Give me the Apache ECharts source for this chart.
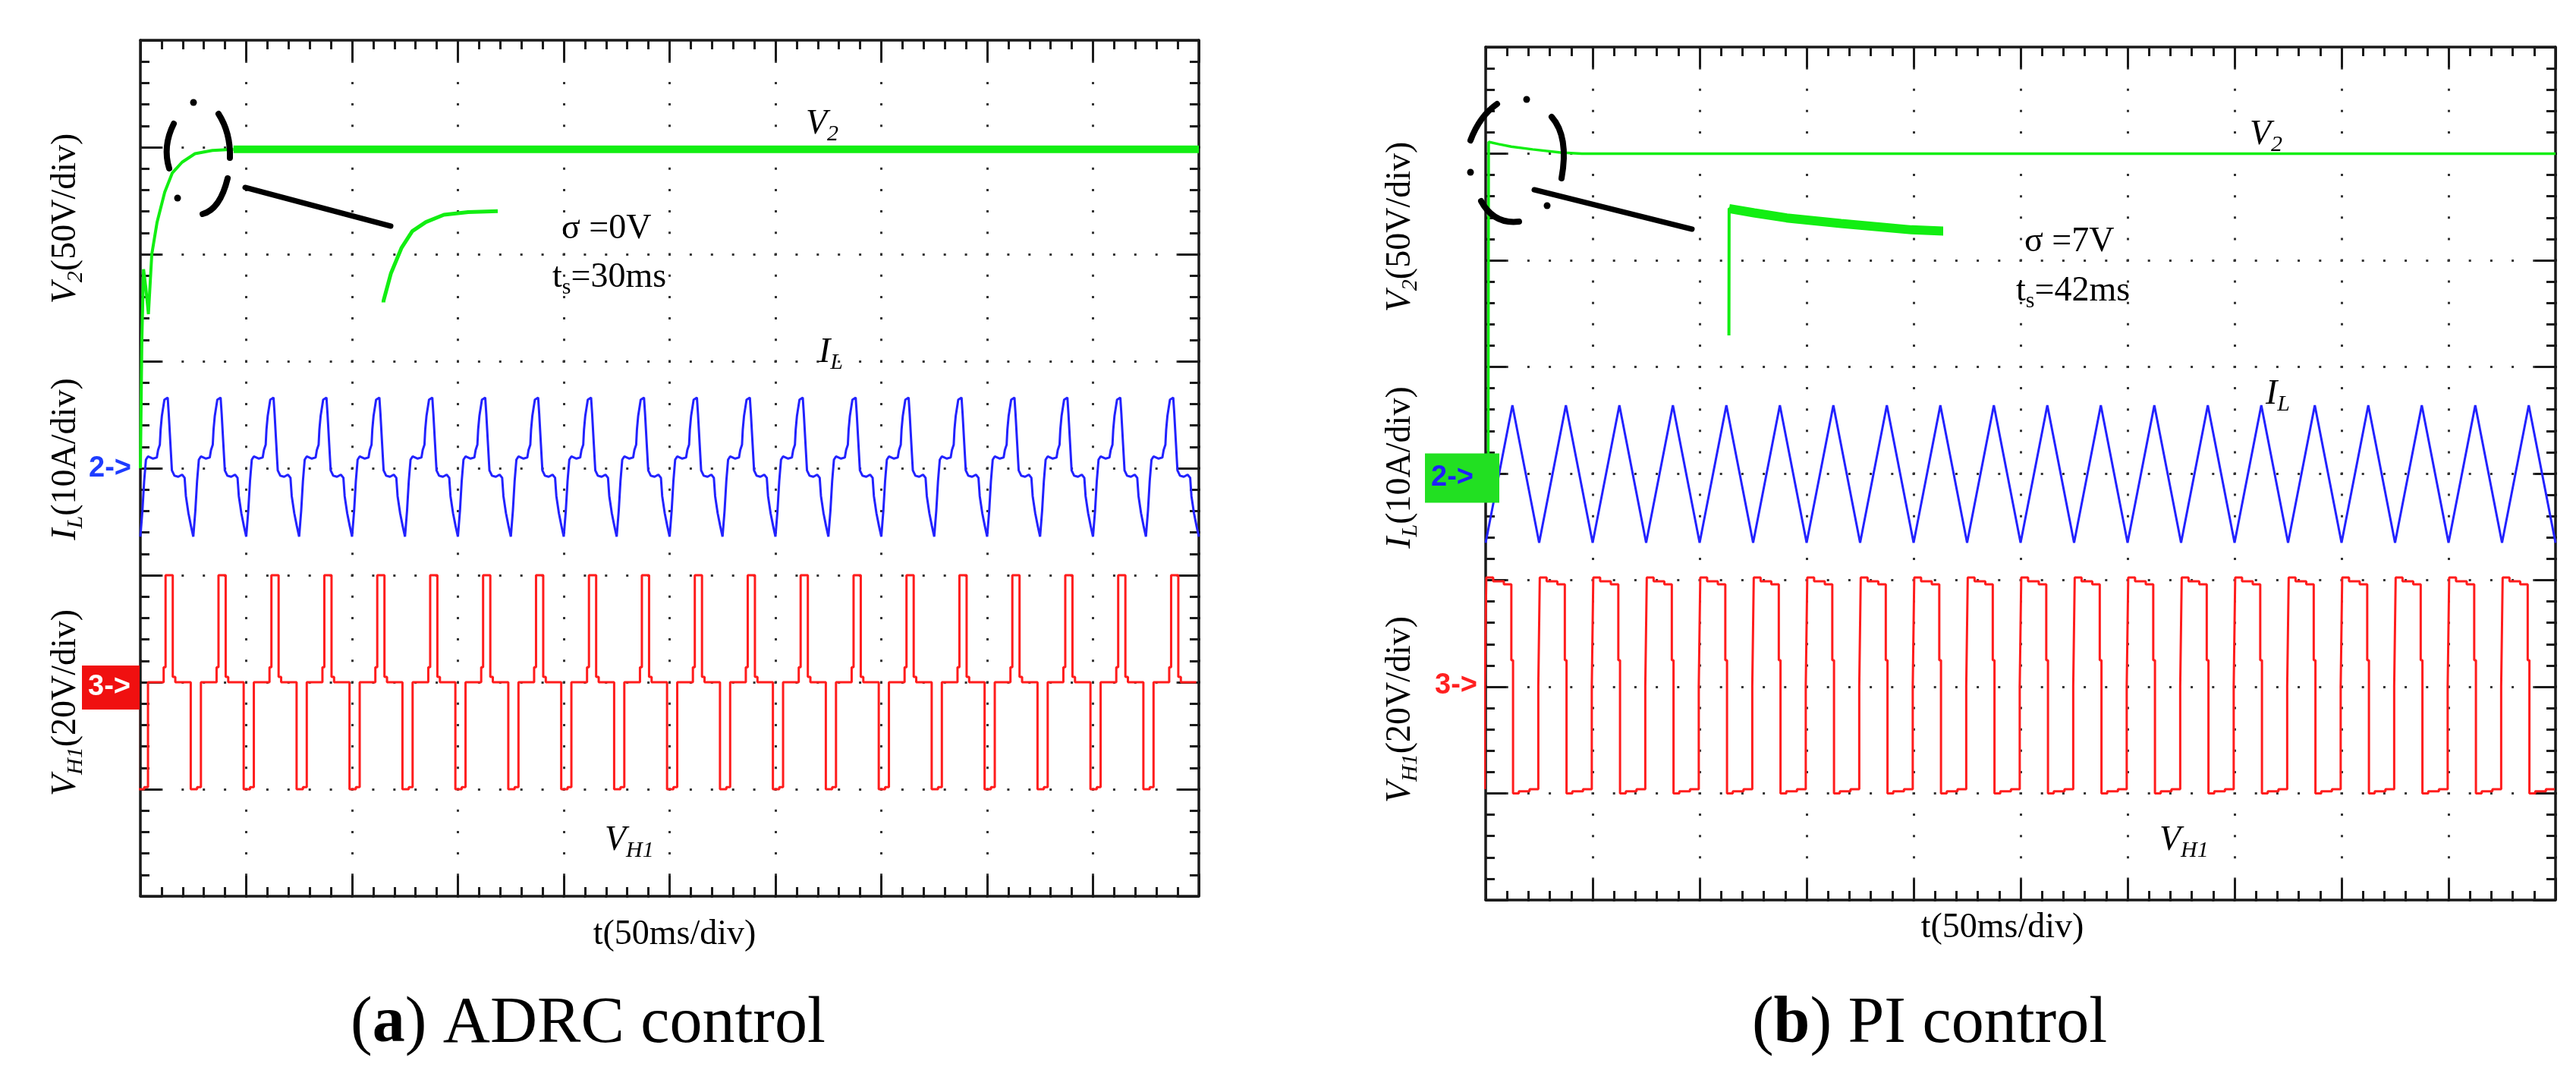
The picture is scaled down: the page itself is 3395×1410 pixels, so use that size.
<!DOCTYPE html>
<html>
<head>
<meta charset="utf-8">
<script src="https://cdn.jsdelivr.net/npm/echarts@6/dist/echarts.min.js"></script>
<style>
    html, body { margin: 0; padding: 0; background: #fff; }
    #chart { width: 3395px; height: 1410px; }
</style>
</head>
<body>
<div id="chart"></div>
<script>
// scope settings: 50ms/div x 10 div, 8 div vertical
// channel scale (per div) and reference marker level (div from bottom)
var v2Scale = 50, ilScale = 10, vh1Scale = 20;
var v2Ref = 4, ilRef = 4, vh1Ref = 2;

// (a) ADRC control
var adrcV2T = [0, 0.7, 1.5, 2.5, 3.8, 5.4, 7.9, 11.5, 15.1, 19.7, 25.8, 34, 44];
var adrcV2V = [0, 60, 93, 85, 72, 100, 115, 129, 138, 143, 147, 148.5, 149];
var adrcV2SteadyT = [44, 500];
var adrcV2SteadyV = [149, 149];
// trough of IL in each switching period (ms)
var adrcCycleT = [0, 25, 50, 75, 100, 125, 150, 175, 200, 225, 250, 275, 300, 325, 350, 375, 400, 425, 450, 475];
// one period of IL (ms after trough, A)
var adrcIlT = [0, 0.96, 1.79, 2.63, 3.59, 5.98, 7.77, 8.37, 9.2, 9.56, 10.16, 11.35, 12.9, 13.4, 14.1, 14.9, 16.1, 17.9, 19.7, 20.9, 21.5, 22.7, 23.9, 25];
var adrcIlV = [-6.4, -4.0, -1.2, 0.8, 1.1, 0.9, 1.0, 1.7, 2.2, 3.6, 4.9, 6.4, 6.6, 5.1, 2.6, -0.2, -0.7, -0.8, -0.6, -0.9, -2.6, -4.2, -5.4, -6.4];
// one period of VH1 (ms after IL trough, V)
var adrcVh1T = [-1.2, -1.2, 1.8, 1.8, 3.6, 3.6, 11.0, 11.0, 11.9, 11.9, 15.3, 15.3, 16.5, 16.5, 23.8];
var adrcVh1V = [0, -20, -20, -19.6, -19.6, 0, 0, 2.8, 2.8, 20, 20, 1.0, 1.0, 0, 0];

// (b) PI control
var piV2T = [0, 1.2, 1.4, 6, 12, 22, 35, 45, 500];
var piV2V = [0, 0, 155.5, 154.5, 153.3, 152, 150.5, 150, 150];
var piCycleT = [0, 25, 50, 75, 100, 125, 150, 175, 200, 225, 250, 275, 300, 325, 350, 375, 400, 425, 450, 475];
var piIlT = [0, 12.5, 25];
var piIlV = [-6.5, 6.4, -6.5];
var piVh1T = [-0.4, -0.4, 0.3, 0.3, 3.5, 3.5, 8.5, 8.5, 12.0, 12.0, 12.8, 12.8, 15.5, 15.5, 20.5, 20.5, 24.6];
var piVh1V = [-19.2, 0, 0, 20.5, 20.5, 19.8, 19.8, 19.2, 19.2, 5, 5, -20, -20, -19.6, -19.6, -19.2, -19.2];

var GREEN = '#12ee12', BLUE = '#2222ff', RED = '#ff1c1c';
var serif = 'Liberation Serif', sans = 'Liberation Sans';

function pairs(ts, vs, scale, ref) {
    var out = [];
    for (var i = 0; i < ts.length; i++) out.push([ts[i], ref + vs[i] / scale]);
    return out;
}
// repeat one recorded period at each read period start
function tile(starts, ts, vs, scale, ref) {
    var out = [];
    starts.forEach(function (s) {
        for (var i = 0; i < ts.length; i++) out.push([s + ts[i], ref + vs[i] / scale]);
    });
    return out;
}

function frameAxis(gi, pos, max, interval, dash) {
    var main = pos === 'bottom' || pos === 'left';
    return {
        type: 'value', gridIndex: gi, position: pos, min: 0, max: max, interval: interval,
        axisLine: { show: true, onZero: false, lineStyle: { color: '#1a1a1a', width: 3.5 } },
        axisTick: { show: true, inside: true, length: 27, lineStyle: { color: '#1a1a1a', width: 3 } },
        minorTick: { show: true, splitNumber: 5, length: 12, lineStyle: { color: '#1a1a1a', width: 3 } },
        axisLabel: { show: false },
        splitLine: { show: main, lineStyle: { color: '#333', width: 3, type: dash, dashOffset: 1.5 } }
    };
}
function hiddenAxis(gi, min, max) {
    return { type: 'value', gridIndex: gi, min: min, max: max, show: false };
}
function line(xi, data, color, width) {
    return {
        type: 'line', xAxisIndex: xi, yAxisIndex: xi, data: data, showSymbol: false,
        symbol: 'none', lineStyle: { color: color, width: width }, clip: true, z: 3
    };
}

var richLab = {
    n: { fontFamily: serif, fontSize: 46, lineHeight: 56, fill: '#000' },
    it: { fontFamily: serif, fontStyle: 'italic', fontSize: 46, lineHeight: 56, fill: '#000' },
    sub: { fontFamily: serif, fontStyle: 'italic', fontSize: 30, lineHeight: 26, verticalAlign: 'bottom', fill: '#000' },
    subn: { fontFamily: serif, fontSize: 30, lineHeight: 26, verticalAlign: 'bottom', fill: '#000' },
    b: { fontFamily: serif, fontWeight: 'bold', fontSize: 86, lineHeight: 96, fill: '#000' },
    t: { fontFamily: serif, fontSize: 86, lineHeight: 96, fill: '#000' }
};
function txt(x, y, text, align, rot) {
    return {
        type: 'text', x: x, y: y, rotation: rot || 0, z: 50,
        style: { text: text, rich: richLab, align: align || 'left', verticalAlign: 'middle' }
    };
}
function curve(x1, y1, cx, cy, x2, y2) {
    return {
        type: 'bezierCurve', z: 60,
        shape: { x1: x1, y1: y1, cpx1: cx, cpy1: cy, x2: x2, y2: y2 },
        style: { stroke: '#000', lineWidth: 8, lineCap: 'round', fill: null }
    };
}
function dot(x, y) {
    return { type: 'circle', z: 60, shape: { cx: x, cy: y, r: 4.5 }, style: { fill: '#000' } };
}
function stroke(x1, y1, x2, y2) {
    return {
        type: 'line', z: 60, shape: { x1: x1, y1: y1, x2: x2, y2: y2 },
        style: { stroke: '#000', lineWidth: 7, lineCap: 'round' }
    };
}
function marker(x, y, text, color, bg, w, h) {
    var els = [];
    if (bg) els.push({ type: 'rect', z: 40, shape: { x: x, y: y - h / 2, width: w, height: h }, style: { fill: bg } });
    els.push({
        type: 'text', z: 41, x: x + 8, y: y,
        style: { text: text, font: 'bold 38px ' + sans, fill: color, align: 'left', verticalAlign: 'middle' }
    });
    return els;
}

var piV2 = pairs(piV2T, piV2V, v2Scale, v2Ref);

var option = {
    animation: false,
    backgroundColor: '#fff',
    grid: [
        { left: 185, top: 53, width: 1395, height: 1128 },
        { left: 1958, top: 62, width: 1410, height: 1124 },
        { left: 504, top: 277, width: 152, height: 119 },
        { left: 2276, top: 262, width: 279, height: 178 }
    ],
    xAxis: [
        frameAxis(0, 'bottom', 500, 50, [3, 25.2]),
        frameAxis(1, 'bottom', 500, 50, [3, 25.1]),
        hiddenAxis(2, 5, 44),
        hiddenAxis(3, 1.0, 40),
        frameAxis(0, 'top', 500, 50),
        frameAxis(1, 'top', 500, 50)
    ],
    yAxis: [
        frameAxis(0, 'left', 8, 1, [3, 24.9]),
        frameAxis(1, 'left', 8, 1, [3, 25.2]),
        hiddenAxis(2, 100, 149.5),
        hiddenAxis(3, 126, 157.8),
        frameAxis(0, 'right', 8, 1),
        frameAxis(1, 'right', 8, 1)
    ],
    series: [
        line(0, pairs(adrcV2T, adrcV2V, v2Scale, v2Ref), GREEN, 4),
        line(0, pairs(adrcV2SteadyT, adrcV2SteadyV, v2Scale, v2Ref), GREEN, 10),
        line(0, tile(adrcCycleT, adrcIlT, adrcIlV, ilScale, ilRef), BLUE, 3),
        line(0, tile(adrcCycleT, adrcVh1T, adrcVh1V, vh1Scale, vh1Ref), RED, 3),
        line(1, piV2, GREEN, 3.5),
        line(1, tile(piCycleT, piIlT, piIlV, ilScale, ilRef), BLUE, 3),
        line(1, tile(piCycleT, piVh1T, piVh1V, vh1Scale, vh1Ref), RED, 3),
        // zoomed views of the V2 start-up
        line(2, pairs(adrcV2T, adrcV2V, v2Scale, v2Ref).map(function (p) { return [p[0], (p[1] - v2Ref) * v2Scale]; }), GREEN, 5),
        line(3, piV2.map(function (p) { return [p[0], (p[1] - v2Ref) * v2Scale]; }), GREEN, 4),
        line(3, piV2.slice(2).map(function (p) { return [p[0], (p[1] - v2Ref) * v2Scale]; }), GREEN, 12)
    ],
    graphic: [].concat(
        [
            // axis names
            txt(87, 288, '{it|V}{sub|2}{n|(50V/div)}', 'center', Math.PI / 2),
            txt(87, 605, '{it|I}{sub|L}{n|(10A/div)}', 'center', Math.PI / 2),
            txt(87, 926, '{it|V}{sub|H1}{n|(20V/div)}', 'center', Math.PI / 2),
            txt(1846, 299, '{it|V}{sub|2}{n|(50V/div)}', 'center', Math.PI / 2),
            txt(1846, 616, '{it|I}{sub|L}{n|(10A/div)}', 'center', Math.PI / 2),
            txt(1846, 935, '{it|V}{sub|H1}{n|(20V/div)}', 'center', Math.PI / 2),
            txt(889, 1232, '{n|t(50ms/div)}', 'center'),
            txt(2639, 1223, '{n|t(50ms/div)}', 'center'),
            // trace names
            txt(1062, 164, '{it|V}{sub|2}'),
            txt(1079, 465, '{it|I}{sub|L}'),
            txt(797, 1108, '{it|V}{sub|H1}'),
            txt(2965, 178, '{it|V}{sub|2}'),
            txt(2986, 520, '{it|I}{sub|L}'),
            txt(2846, 1108, '{it|V}{sub|H1}'),
            // overshoot / settling time
            txt(740, 302, '{n|σ =0V}'),
            txt(728, 366, '{n|t}{subn|s}{n|=30ms}'),
            txt(2668, 319, '{n|σ =7V}'),
            txt(2657, 384, '{n|t}{subn|s}{n|=42ms}'),
            // captions
            txt(775, 1350, '{t|(}{b|a}{t|) ADRC control}', 'center'),
            txt(2543, 1350, '{t|(}{b|b}{t|) PI control}', 'center'),
            // hand drawn marks, left
            curve(229, 163, 214, 193, 223, 222),
            curve(288, 150, 304, 175, 303, 208),
            curve(300, 235, 290, 276, 267, 282),
            dot(255, 135), dot(234, 261),
            stroke(323, 247, 515, 298),
            // hand drawn marks, right
            curve(1973, 137, 1950, 153, 1938, 185),
            curve(2045, 154, 2068, 180, 2058, 235),
            curve(1952, 265, 1969, 296, 2002, 292),
            dot(2012, 131), dot(1938, 227), dot(2039, 271),
            stroke(2022, 250, 2230, 302)
        ],
        marker(109, 618, '2->', '#1e3cff', null, 0, 0),
        marker(108, 906, '3->', '#fff', '#f01010', 76, 58),
        marker(1878, 630, '2->', '#2020ff', '#22e022', 98, 65),
        marker(1883, 904, '3->', '#ff2020', null, 0, 0)
    )
};

var chart = echarts.init(document.getElementById('chart'));
chart.setOption(option);
</script>
</body>
</html>
